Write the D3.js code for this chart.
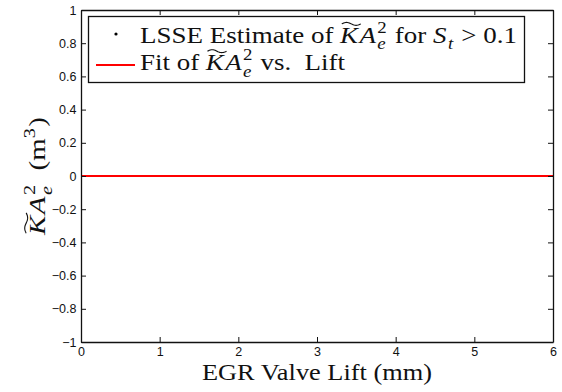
<!DOCTYPE html>
<html>
<head>
<meta charset="utf-8">
<script src="https://cdn.jsdelivr.net/npm/d3@7"></script>
<style>
  body { margin: 0; background: #fff; }
  svg { display: block; }
</style>
</head>
<body>
<svg id="chart" width="562" height="392"></svg>
<script>
// Axis ticks
const xTicks = [0, 1, 2, 3, 4, 5, 6];
const yTicks = [-1, -0.8, -0.6, -0.4, -0.2, 0, 0.2, 0.4, 0.6, 0.8, 1];

// Fitted KA_e^2 against valve lift (m^3)
const fitLift = [0, 0.6, 2.4, 4.2, 6];
const fitValue = [0, 0, 0, 0, 0];

const svg = d3.select("#chart");
const margin = { left: 81, right: 9, top: 10, bottom: 50 };
const W = 562, H = 392;
const x = d3.scaleLinear().domain([0, 6]).range([margin.left, W - margin.right]);
const y = d3.scaleLinear().domain([-1, 1]).range([H - margin.bottom, margin.top]);

const SERIF = "'Liberation Serif', 'Times New Roman', serif";
const SANS = "'Liberation Sans', Arial, Helvetica, sans-serif";
const fmt = v => (v < 0 ? "\u2212" : "") + String(Math.abs(Math.round(v * 10) / 10));

// Fit line
svg.append("path")
  .datum(fitLift.map((l, i) => [l, fitValue[i]]))
  .attr("fill", "none")
  .attr("stroke", "#ff0000")
  .attr("stroke-width", 2.2)
  .attr("d", d3.line().x(d => x(d[0])).y(d => y(d[1])));

// Axes (MATLAB-style box, ticks inside)
const tickLen = 5;
const bottomAxis = d3.axisBottom(x).tickValues(xTicks).tickSizeInner(-tickLen).tickSizeOuter(0).tickPadding(5).tickFormat(d => d);
const topAxis = d3.axisTop(x).tickValues(xTicks).tickSizeInner(-tickLen).tickSizeOuter(0).tickFormat("");
const leftAxis = d3.axisLeft(y).tickValues(yTicks).tickSizeInner(-tickLen).tickSizeOuter(0).tickPadding(4.5).tickFormat(fmt);
const rightAxis = d3.axisRight(y).tickValues(yTicks).tickSizeInner(-tickLen).tickSizeOuter(0).tickFormat("");

function styleAxis(g) {
  g.select(".domain").attr("stroke", "#111").attr("stroke-width", 1.3);
  g.selectAll(".tick line").attr("stroke", "#111").attr("stroke-width", 1);
  g.selectAll(".tick text").attr("font-family", SANS).attr("font-size", 12.5).attr("fill", "#111");
}
svg.append("g").attr("transform", `translate(0,${y(-1)})`).call(bottomAxis).call(styleAxis);
svg.append("g").attr("transform", `translate(0,${y(1)})`).call(topAxis).call(styleAxis);
svg.append("g").attr("transform", `translate(${x(0)},0)`).call(leftAxis).call(styleAxis);
svg.append("g").attr("transform", `translate(${x(6)},0)`).call(rightAxis).call(styleAxis);

// Typeset a line of text with italics, sub/superscripts and a wide tilde,
// stretched horizontally to the given width
function typeset(g, parts, size, width, anchor) {
  const grp = g.append("g");
  let cx = 0;
  parts.forEach(p => {
    if (p.gap) { cx += p.gap * size; return; }
    if (p.sub !== undefined || p.sup !== undefined) {
      let w = 0;
      if (p.sup !== undefined) {
        const t = grp.append("text").attr("x", cx).attr("y", -0.45 * size)
          .attr("font-family", SERIF).attr("font-size", size * 0.7).text(p.sup);
        w = Math.max(w, t.node().getComputedTextLength());
      }
      if (p.sub !== undefined) {
        const t = grp.append("text").attr("x", cx).attr("y", 0.3 * size)
          .attr("font-family", SERIF).attr("font-style", "italic").attr("font-size", size * 0.7).text(p.sub);
        w = Math.max(w, t.node().getComputedTextLength());
      }
      cx += w + 0.05 * size;
      return;
    }
    const t = grp.append("text").attr("x", cx).attr("y", 0)
      .attr("font-family", SERIF).attr("font-size", size)
      .attr("font-style", p.it ? "italic" : "normal")
      .attr("xml:space", "preserve").style("white-space", "pre")
      .text(p.t);
    const w = t.node().getComputedTextLength();
    if (p.tilde) {
      const x0 = cx + 0.06 * size, x1 = cx + w + 0.1 * size, yb = -0.84 * size, a = 0.065 * size;
      const pts = d3.range(0, 1.0001, 0.05).map(s => [x0 + s * (x1 - x0), yb - a * Math.sin(s * 2 * Math.PI)]);
      grp.append("path").attr("d", d3.line()(pts)).attr("fill", "none")
        .attr("stroke", "#111").attr("stroke-width", 0.05 * size);
    }
    cx += w + (p.it ? 0.05 * size : 0);
  });
  grp.selectAll("text").attr("fill", "#111");
  const sx = width / cx;
  const off = anchor === "middle" ? -width / 2 : 0;
  grp.attr("transform", `translate(${off},0) scale(${sx},1)`);
}

// Axis labels
const xLab = svg.append("g").attr("transform", "translate(317,380)");
typeset(xLab, [{ t: "EGR Valve Lift (mm)" }], 22.4, 230, "middle");

const yLab = svg.append("g").attr("transform", `translate(45,${y(0)}) rotate(-90)`);
typeset(yLab, [
  { t: "K", it: true, tilde: true }, { t: "A", it: true }, { sub: "e", sup: "2" },
  { gap: 0.45 }, { t: "(m" }, { sup: "3" }, { t: ")" }
], 22.4, 118, "middle");

// Legend
const lg = svg.append("g");
lg.append("rect").attr("x", 88.5).attr("y", 16.5).attr("width", 436).attr("height", 66)
  .attr("fill", "#fff").attr("stroke", "#111").attr("stroke-width", 1.3);
lg.append("circle").attr("cx", 116).attr("cy", 34).attr("r", 1.6).attr("fill", "#000");
lg.append("line").attr("x1", 96).attr("x2", 135).attr("y1", 65).attr("y2", 65)
  .attr("stroke", "#ff0000").attr("stroke-width", 2.2);
const l1 = lg.append("g").attr("transform", "translate(140,42.7)");
typeset(l1, [
  { t: "LSSE Estimate of " }, { t: "K", it: true, tilde: true }, { t: "A", it: true },
  { sub: "e", sup: "2" }, { t: " for " }, { t: "S", it: true }, { sub: "t" }, { t: " > 0.1" }
], 22.4, 377);
const l2 = lg.append("g").attr("transform", "translate(140,70)");
typeset(l2, [
  { t: "Fit of " }, { t: "K", it: true, tilde: true }, { t: "A", it: true },
  { sub: "e", sup: "2" }, { t: " vs.  Lift" }
], 22.4, 205);
</script>
</body>
</html>
